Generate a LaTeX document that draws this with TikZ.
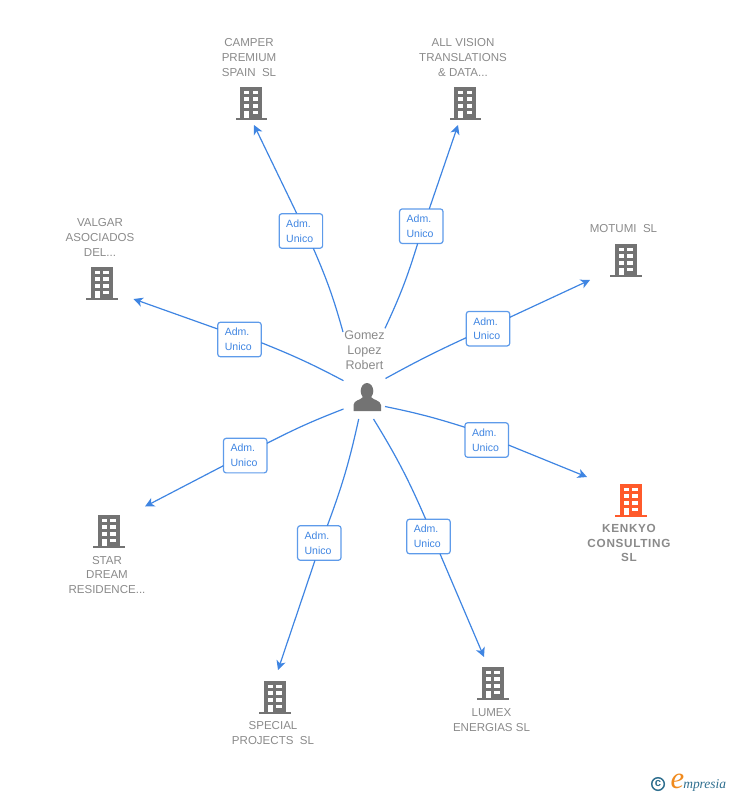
\documentclass[tikz,border=0pt]{standalone}
\usepackage{fontspec}
\setmainfont{Liberation Sans}
\newfontfamily\logofont{Liberation Serif}
\newfontfamily\kenkyofont[LetterSpace=6]{Liberation Sans Bold}
\usetikzlibrary{arrows.meta,calc}
\definecolor{linkblue}{HTML}{3F85E2}
\definecolor{boxblue}{HTML}{5E9BEA}
\definecolor{greytext}{HTML}{8A8A8A}
\definecolor{bldgrey}{HTML}{737373}
\definecolor{bldorange}{HTML}{FF5A2B}
\definecolor{logoteal}{HTML}{2F6F8F}
\definecolor{logoorange}{HTML}{F08A1D}
\tikzset{
  x=0.75pt,y=-0.75pt,
  link/.style={draw=linkblue,line width=0.9pt},
  arrowlink/.style={link,-{Stealth[length=7pt,width=7pt,inset=2pt]}},
  rolebox/.style={draw=boxblue,line width=0.9pt,rounded corners=2pt,fill=white,minimum width=32.6pt,minimum height=25.9pt,inner sep=0pt,
    text=linkblue,font=\fontsize{7.9}{11.2}\selectfont,align=left,text width=22pt},
  firmlabel/.style={text=greytext,font=\fontsize{8.65}{11.2}\selectfont,align=center,inner sep=0pt},
  pics/building/.style={code={
    \fill[#1] (2,-16.3) rectangle (24.3,15.5);
    \fill[#1] (-2.5,15) rectangle (29,17);
    \foreach \yy/\hh in {-12.3/3.7,-5.7/4,1/3.7}{
      \fill[white] (6,\yy) rectangle (11,\yy+\hh);
      \fill[white] (14.7,\yy) rectangle (20.3,\yy+\hh);
    }
    \fill[white] (6,7.7) rectangle (11,15);
    \fill[white] (14.7,7.7) rectangle (20.3,11.3);
  }}
}
\begin{document}
\begin{tikzpicture}
\useasboundingbox (0,0) rectangle (728,795);
% end points
\coordinate (sCamper) at (343,332);
\coordinate (eCamper) at (254,125);
\coordinate (sAll) at (385,328.3);
\coordinate (eAll) at (458,125);
\coordinate (sMotumi) at (385.5,378.5);
\coordinate (eMotumi) at (590,280);
\coordinate (sKenkyo) at (385,406.5);
\coordinate (eKenkyo) at (587,477);
\coordinate (sLumex) at (373.5,419);
\coordinate (eLumex) at (484,657);
\coordinate (sSpecial) at (358.7,419);
\coordinate (eSpecial) at (278,670);
\coordinate (sStar) at (343.5,409);
\coordinate (eStar) at (145,506.5);
\coordinate (sValgar) at (343.5,380.7);
\coordinate (eValgar) at (133.5,299);
% role boxes
\node[rolebox] (bCamper) at (300.9,231) {Adm.\\Unico};
\node[rolebox] (bAll) at (421.3,226.2) {Adm.\\Unico};
\node[rolebox] (bMotumi) at (488,328.7) {Adm.\\Unico};
\node[rolebox] (bKenkyo) at (486.7,440) {Adm.\\Unico};
\node[rolebox] (bLumex) at (428.5,536.5) {Adm.\\Unico};
\node[rolebox] (bSpecial) at (319.3,543) {Adm.\\Unico};
\node[rolebox] (bStar) at (245.2,455.6) {Adm.\\Unico};
\node[rolebox] (bValgar) at (239.5,339.5) {Adm.\\Unico};
% connectors
\draw[link] (sCamper) to[bend right=4] ($(bCamper)+(12.4,17.3)$);
\draw[arrowlink] ($(bCamper)+(-4.2,-17.6)$) -- (eCamper);
\draw[link] (sAll) to[bend right=4] ($(bAll)+(-3.6,17.2)$);
\draw[arrowlink] ($(bAll)+(8,-17.4)$) -- (eAll);
\draw[link] (sMotumi) to[bend left=2] ($(bMotumi)+(-21.8,9)$);
\draw[arrowlink] ($(bMotumi)+(21.8,-11.4)$) -- (eMotumi);
\draw[link] (sKenkyo) to[bend left=3] ($(bKenkyo)+(-21.7,-12.7)$);
\draw[arrowlink] ($(bKenkyo)+(21.7,5)$) -- (eKenkyo);
\draw[link] (sLumex) to[bend left=4] ($(bLumex)+(-2.8,-17.3)$);
\draw[arrowlink] ($(bLumex)+(11.5,17.3)$) -- (eLumex);
\draw[link] (sSpecial) to[bend left=4] ($(bSpecial)+(8,-17.2)$);
\draw[arrowlink] ($(bSpecial)+(-4.3,17.3)$) -- (eSpecial);
\draw[link] (sStar) to[bend right=3] ($(bStar)+(21.8,-12.3)$);
\draw[arrowlink] ($(bStar)+(-21.8,10.1)$) -- (eStar);
\draw[link] (sValgar) to[bend right=3] ($(bValgar)+(21.8,3.2)$);
\draw[arrowlink] ($(bValgar)+(-21.8,-10.5)$) -- (eValgar);
% centre person
\node[firmlabel,font=\fontsize{9.4}{11.2}\selectfont] (person) at (364.5,350) {Gomez\\Lopez\\Robert};
\fill[bldgrey] (367,391) ellipse (6.3 and 8);
\fill[bldgrey] (353.5,411) -- (353.5,405) .. controls (354,400) and (360,400.5) .. (363,397) -- (371,397) .. controls (374,400.5) and (380,400) .. (381,405) -- (381,411) -- cycle;
% firms
\pic at (238,103) {building=bldgrey};
\node[firmlabel] (nCamper) at (249,57.5) {CAMPER\\PREMIUM\\SPAIN\ \ SL};
\pic at (452,103) {building=bldgrey};
\node[firmlabel] (nAll) at (463,57.5) {ALL VISION\\TRANSLATIONS\\\&\ DATA...};
\pic at (612.5,260) {building=bldgrey};
\node[firmlabel] (nMotumi) at (623.5,229) {MOTUMI\ \ SL};
\pic at (88.5,283) {building=bldgrey};
\node[firmlabel] (nValgar) at (100,237.5) {VALGAR\\ASOCIADOS\\DEL...};
\pic at (95.5,531) {building=bldgrey};
\node[firmlabel] (nStar) at (107,575) {STAR\\DREAM\\RESIDENCE...};
\pic at (617.5,500) {building=bldorange};
\node[firmlabel,font=\kenkyofont\fontsize{8.8}{11.2}\selectfont] (nKenkyo) at (629,543) {KENKYO\\CONSULTING\\SL};
\pic at (261.5,697) {building=bldgrey};
\node[firmlabel] (nSpecial) at (273,733) {SPECIAL\\PROJECTS\ \ SL};
\pic at (479.5,683) {building=bldgrey};
\node[firmlabel] (nLumex) at (491.5,720) {LUMEX\\ENERGIAS SL};
% logo
\draw[logoteal,line width=1.1pt] (658,784) circle (6.3);
\node[text=logoteal,font=\fontsize{8.5}{9}\bfseries\selectfont,inner sep=0pt] (logoC) at (658,783.5) {c};
\node[text=logoorange,font=\logofont\itshape\fontsize{23}{24}\selectfont,inner sep=0pt] (logoE) at (677.5,781) {e};
\node[anchor=west,text=logoteal,font=\logofont\itshape\fontsize{10.1}{11}\selectfont,inner sep=0pt] (logoT) at (683,785.5) {mpresia};
\end{tikzpicture}
\end{document}
